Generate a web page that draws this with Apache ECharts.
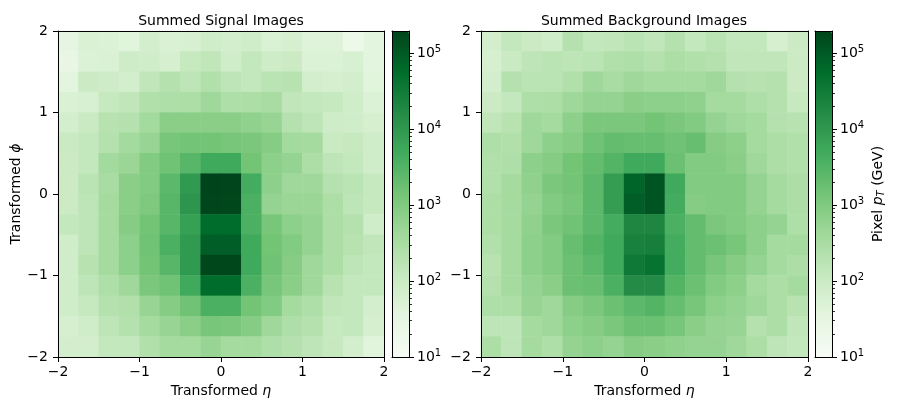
<!DOCTYPE html>
<html><head><meta charset="utf-8">
<script src="https://cdn.jsdelivr.net/npm/echarts@6/dist/echarts.min.js"></script>
<style>html,body{margin:0;padding:0;background:#fff}#c{width:897px;height:409px}</style>
</head><body><div id="c"></div>
<script>
// bin centres (both eta and phi), 16 bins from -2 to 2
const binCenters = [-1.875,-1.625,-1.375,-1.125,-0.875,-0.625,-0.375,-0.125,0.125,0.375,0.625,0.875,1.125,1.375,1.625,1.875];
// summed pixel pT (GeV); rows listed from top (phi = +2) to bottom (phi = -2), columns eta -2 -> 2
const signalRows = [
 [33,54,49,40,72,54,59,80,72,80,54,65,44,44,22,36],
 [27,49,54,88,80,65,118,144,80,130,88,97,49,49,59,36],
 [36,97,88,72,144,214,159,236,159,130,175,194,72,65,72,40],
 [54,59,118,144,236,260,287,427,260,287,318,144,130,118,80,49],
 [72,107,194,214,386,772,772,772,772,633,520,214,159,88,80,65],
 [107,130,214,386,520,1260,1400,1400,1260,1150,852,386,350,107,118,80],
 [97,130,386,471,940,1540,2790,5040,5040,1400,700,574,287,159,130,80],
 [97,175,318,772,940,2520,9120,195000,190000,4570,700,427,427,214,175,118],
 [97,159,350,772,1040,2790,11100,185000,180000,3750,574,471,471,287,159,118],
 [130,159,350,852,1400,2790,7480,56700,56700,3750,1260,700,574,287,214,80],
 [80,159,350,700,1540,3750,9120,88500,88500,5040,1400,940,574,287,194,144],
 [80,194,350,700,1400,2790,9120,177000,177000,5040,1540,852,427,287,159,130],
 [80,159,260,427,1150,1540,5040,56700,56700,3750,1260,772,427,194,130,130],
 [80,118,214,236,520,852,1540,3750,3750,1400,940,350,260,144,130,72],
 [65,80,159,214,350,520,772,1260,1150,852,427,260,214,118,130,65],
 [72,72,130,130,236,350,350,520,350,350,260,214,159,118,72,40]
];
const backgroundRows = [
 [72,130,97,80,214,130,144,175,144,214,130,175,130,130,65,97],
 [65,107,159,175,159,175,236,260,214,287,236,214,144,144,144,97],
 [72,214,175,175,236,427,318,427,350,350,350,427,214,194,214,97],
 [97,130,260,287,427,574,574,772,700,700,633,350,350,260,214,118],
 [144,194,427,350,700,1150,1150,1150,1400,1150,940,574,427,350,214,194],
 [260,236,427,700,852,1540,2070,1880,1880,1540,1880,852,700,350,287,236],
 [236,260,700,852,1400,2070,3080,5040,5040,1700,940,940,772,427,287,236],
 [236,350,633,1150,1400,2520,8270,72500,119000,5040,940,940,940,574,350,287],
 [287,350,574,940,1260,2520,8270,88500,119000,4570,852,940,940,574,350,287],
 [287,350,633,1150,1540,2520,4570,20000,20000,3750,2070,1150,940,700,574,260],
 [236,350,700,940,1880,3080,5040,24500,27000,4570,2070,1700,1260,700,350,350],
 [194,350,700,940,1700,2520,5040,33000,44600,4570,2070,1260,852,574,350,287],
 [214,350,574,772,1700,1880,3750,16500,16500,3080,1700,940,700,350,287,350],
 [260,287,520,427,852,1150,1700,2520,3080,1880,1260,700,574,427,287,194],
 [159,159,350,427,700,852,1150,1700,1700,1260,772,574,520,214,287,144],
 [287,159,350,260,574,700,574,852,772,633,574,574,427,287,159,130]
];
const axisTicks = [-2,-1,0,1,2];
const colorbarExponents = [1,2,3,4,5];
const vmin = 10, vmax = 195000;
const greens = ['#f7fcf5','#e5f5e0','#c7e9c0','#a1d99b','#74c476','#41ab5d','#238b45','#006d2c','#00441b'];

const FONT = 'DejaVu Sans';
const lmin = Math.log10(vmin), lmax = Math.log10(vmax);
function toData(rows){const out=[];rows.forEach((row,r)=>row.forEach((v,c)=>out.push([c,rows.length-1-r,Math.log10(v)])));return out;}
const minorTicks=[];for(let n=1;n<=5;n++){for(let k=2;k<=9;k++){const t=n+Math.log10(k);if(t<=lmax)minorTicks.push(t);}}
const minus = v => (v<0?'\u2212':'')+Math.abs(v);
const txt = {color:'#000',fontFamily:FONT,fontSize:14};
const line = {show:true,onZero:false,lineStyle:{color:'#000',width:1}};

const grids=[
 {left:58,top:31,width:326,height:326},
 {left:481,top:31,width:327,height:326},
 {left:392,top:31,width:17,height:326},
 {left:815,top:31,width:17,height:326}
];
const xAxes=[], yAxes=[];
function heatAxes(g, showYName){
  xAxes.push({type:'category',gridIndex:g,position:'top',data:binCenters,axisLine:line,axisTick:{show:false},axisLabel:{show:false},splitLine:{show:false},z:10});
  xAxes.push({type:'value',gridIndex:g,position:'bottom',min:-2,max:2,interval:1,axisLine:line,
    axisTick:{show:true,length:5,lineStyle:{color:'#000'}},axisLabel:Object.assign({margin:8,formatter:minus},txt),splitLine:{show:false},z:10,
    name:'Transformed {i|η}',nameLocation:'middle',nameGap:27,nameTextStyle:Object.assign({rich:{i:{fontStyle:'italic',fontFamily:FONT,fontSize:14,color:'#000'}}},txt)});
  yAxes.push({type:'category',gridIndex:g,position:'right',data:binCenters,axisLine:line,axisTick:{show:false},axisLabel:{show:false},splitLine:{show:false},z:10});
  const ya={type:'value',gridIndex:g,position:'left',min:-2,max:2,interval:1,axisLine:line,
    axisTick:{show:true,length:5,lineStyle:{color:'#000'}},axisLabel:Object.assign({margin:10,formatter:minus},txt),splitLine:{show:false},z:10};
  if(showYName){Object.assign(ya,{name:'Transformed {i|ϕ}',nameLocation:'middle',nameGap:33,nameRotate:90,
    nameTextStyle:Object.assign({rich:{i:{fontStyle:'italic',fontFamily:FONT,fontSize:14,color:'#000'}}},txt)});}
  yAxes.push(ya);
}
function cbarAxes(g, label){
  xAxes.push({type:'value',gridIndex:g,position:'bottom',min:0,max:1,axisLine:line,axisTick:{show:false},axisLabel:{show:false},splitLine:{show:false},z:10});
  xAxes.push({type:'value',gridIndex:g,position:'top',min:0,max:1,axisLine:line,axisTick:{show:false},axisLabel:{show:false},splitLine:{show:false},z:10});
  const ya={type:'value',gridIndex:g,position:'right',min:lmin,max:lmax,axisLine:line,
    axisTick:{show:true,length:5,customValues:colorbarExponents,lineStyle:{color:'#000'}},
    axisLabel:Object.assign({margin:8,customValues:colorbarExponents,formatter:v=>'10{sup|'+Math.round(v)+'}',
      rich:{sup:{fontSize:10,fontFamily:FONT,color:'#000',verticalAlign:'top',padding:[0,0,7,0]}}},txt),splitLine:{show:false},z:10};
  if(label){Object.assign(ya,{name:'Pixel {i|p}{s|T} (GeV)',nameLocation:'middle',nameGap:38,nameRotate:90,
    nameTextStyle:Object.assign({rich:{i:{fontStyle:'italic',fontFamily:FONT,fontSize:14,color:'#000'},s:{fontStyle:'italic',fontFamily:FONT,fontSize:10,color:'#000',verticalAlign:'bottom',padding:[6,0,0,0]}}},txt)});}
  yAxes.push(ya);
  yAxes.push({type:'value',gridIndex:g,position:'right',min:lmin,max:lmax,axisLine:{show:false,onZero:false},
    axisTick:{show:true,length:3,customValues:minorTicks,lineStyle:{color:'#000',width:0.8}},axisLabel:{show:false},splitLine:{show:false},z:10});
  yAxes.push({type:'value',gridIndex:g,position:'left',min:lmin,max:lmax,axisLine:line,axisTick:{show:false},axisLabel:{show:false},splitLine:{show:false},z:10});
}
heatAxes(0,true); heatAxes(1,false); cbarAxes(2,false); cbarAxes(3,true);

const vm = (idx,left)=>({type:'continuous',seriesIndex:idx,min:lmin,max:lmax,calculable:false,hoverLink:false,
  inRange:{color:greens},left:left,top:31,itemWidth:17,itemHeight:326,padding:0,text:null,orient:'vertical'});

const chart = echarts.init(document.getElementById('c'),null,{renderer:'canvas'});
chart.setOption({
  animation:false,
  backgroundColor:'#fff',
  textStyle:{fontFamily:FONT},
  title:[
    {text:'Summed Signal Images',left:216,top:9,textAlign:'center',textStyle:{fontFamily:FONT,fontSize:14,fontWeight:'normal',color:'#000'}},
    {text:'Summed Background Images',left:639,top:9,textAlign:'center',textStyle:{fontFamily:FONT,fontSize:14,fontWeight:'normal',color:'#000'}}
  ],
  grid:grids,
  xAxis:xAxes,
  yAxis:yAxes,
  visualMap:[vm(0,392),vm(1,815)],
  series:[
    {type:'heatmap',xAxisIndex:0,yAxisIndex:0,data:toData(signalRows),itemStyle:{borderWidth:0},emphasis:{disabled:true}},
    {type:'heatmap',xAxisIndex:2,yAxisIndex:2,data:toData(backgroundRows),itemStyle:{borderWidth:0},emphasis:{disabled:true}}
  ]
});
</script></body></html>
